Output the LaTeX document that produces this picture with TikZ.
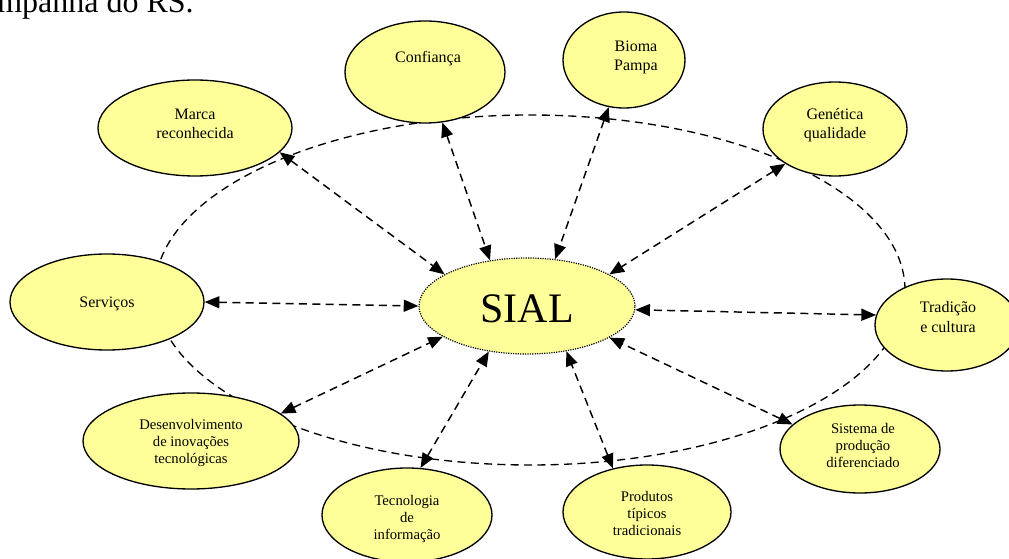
\documentclass[tikz,border=0pt]{standalone}
\usepackage{fontspec}
\setmainfont{Liberation Serif}
\usetikzlibrary{shapes.geometric,arrows.meta}
\definecolor{bubfill}{HTML}{FFFF99}
\tikzset{
  bub/.style 2 args={ellipse, draw=black, line width=1pt, fill=bubfill,
    inner sep=0pt, minimum width=0.75*#1pt, minimum height=0.75*#2pt},
  core/.style={ellipse, draw=black, line width=0.9pt, dash pattern=on 0.9pt off 0.9pt,
    fill=bubfill, inner sep=0pt, minimum width=162pt, minimum height=72pt},
  ring/.style={ellipse, draw=black, line width=1pt, dash pattern=on 6pt off 4pt,
    inner sep=0pt, minimum width=562.5pt, minimum height=262.5pt},
  lbl/.style={anchor=base, inner sep=0pt, align=center,
    font=\fontsize{12pt}{14.25pt}\selectfont},
  lbls/.style={anchor=base, inner sep=0pt, align=center,
    font=\fontsize{11pt}{12.75pt}\selectfont},
  link/.style={line width=1.1pt, dash pattern=on 6pt off 4pt,
    {Triangle[length=11pt,width=9pt]}-{Triangle[length=11pt,width=9pt]}}
}
\begin{document}
\begin{tikzpicture}[x=0.75pt, y=-0.75pt]
\useasboundingbox (0,0) rectangle (1009,559);

% caption fragment running in from the left edge
\node[anchor=base east, inner sep=0pt, font=\fontsize{24pt}{28pt}\selectfont]
  (caption) at (194,13) {Campanha do RS.};

% dashed ring around the centre
\node[ring] (ring) at (530,290) {};

% outer bubbles (full width and height in px)
\node[bub={160}{102}] (conf)   at (425,72)  {};
\node[bub={122}{96}]  (bioma)  at (624,60)  {};
\node[bub={194}{96}]  (marca)  at (195,128) {};
\node[bub={144}{94}]  (gen)    at (835,129) {};
\node[bub={194}{96}]  (serv)   at (107,302) {};
\node[bub={144}{92}]  (trad)   at (947,325) {};
\node[bub={160}{88}]  (sist)   at (860,449) {};
\node[bub={168}{94}]  (prod)   at (647,512) {};
\node[bub={170}{94}]  (tec)    at (407,515) {};
\node[bub={216}{96}]  (desenv) at (191,441) {};

% centre
\node[core] (sial) at (527,306) {};

% bubble texts (anchored at the baseline of the last line)
\node[lbl]  (tconf)   at (428,63)  {Confiança};
\node[lbl]  (tbioma)  at (636,71)  {Bioma\\Pampa};
\node[lbl]  (tmarca)  at (195,139) {Marca\\reconhecida};
\node[lbl]  (tgen)    at (835,139) {Genética\\qualidade};
\node[lbl]  (tserv)   at (107,307) {Serviços};
\node[lbl]  (ttrad)   at (948,332) {Tradição\\e cultura};
\node[lbls] (tsist)   at (863,467) {Sistema de\\produção\\diferenciado};
\node[lbls] (tprod)   at (647,535) {Produtos\\típicos\\tradicionais};
\node[lbls] (ttec)    at (407,539) {Tecnologia\\de\\informação};
\node[lbls] (tdesenv) at (191,463) {Desenvolvimento\\de inovações\\tecnológicas};
\node[anchor=base, inner sep=0pt, font=\fontsize{31.5pt}{36pt}\selectfont]
  (tsial) at (527,322) {SIAL};

% two-way links between the centre and each bubble
\draw[link] (marca.-16)  -- (sial.159);
\draw[link] (conf.-71)   -- (sial.129);
\draw[link] (bioma.-108) -- (sial.59);
\draw[link] (gen.-145)   -- (sial.21);
\draw[link] (trad.172)   -- (sial.-2);
\draw[link] (sist.160)   -- (sial.-21);
\draw[link] (prod.128)   -- (sial.-49);
\draw[link] (tec.74)     -- (sial.-130);
\draw[link] (desenv.17)  -- (sial.-160);
\draw[link] (serv.0)     -- (sial.180);
\end{tikzpicture}
\end{document}
